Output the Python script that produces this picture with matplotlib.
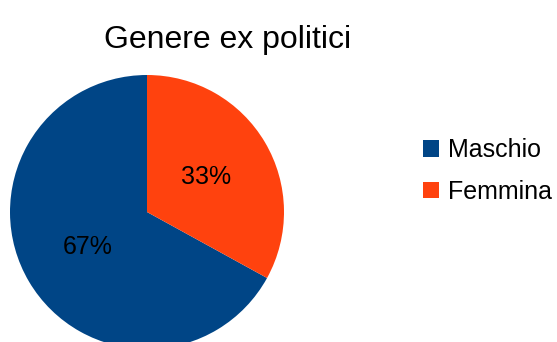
import matplotlib
matplotlib.use("Agg")
import matplotlib.pyplot as plt
from matplotlib.patches import Patch

plt.rcParams['font.family'] = ['Liberation Sans', 'DejaVu Sans']

title = "Genere ex politici"
categories = ["Maschio", "Femmina"]
shares = [67, 33]
colors = ["#004586", "#ff420e"]

W, H = 557, 342
fig = plt.figure(figsize=(W / 100, H / 100), dpi=100)
fig.patch.set_facecolor("white")

# pie axes placed in pixel terms: centre (147, 212 from top), radius 137
cx, cy, r = 147, 212, 137
ax = fig.add_axes([(cx - r) / W, (H - cy - r) / H, 2 * r / W, 2 * r / H])
wedges, texts, autotexts = ax.pie(
    shares, colors=colors, startangle=90, counterclock=True,
    radius=1.0, autopct=lambda p: f"{p:.0f}%", pctdistance=0.5,
    textprops=dict(fontsize=18, color="black"),
    wedgeprops=dict(linewidth=0),
)
ax.set_xlim(-1, 1)
ax.set_ylim(-1, 1)
ax.set_aspect("equal")
ax.axis("off")

fig.text(228 / W, 1 - 48 / H, title, ha="center", va="baseline", fontsize=23)

handles = [Patch(facecolor=c, edgecolor="none") for c in colors]
fig.legend(handles, categories, loc="center left",
           bbox_to_anchor=(423 / W, 1 - 171 / H), frameon=False,
           fontsize=18, handlelength=0.62, handleheight=0.62,
           handletextpad=0.36, labelspacing=0.7, borderpad=0,
           borderaxespad=0)

fig.savefig("out.png", dpi=100, facecolor="white")
